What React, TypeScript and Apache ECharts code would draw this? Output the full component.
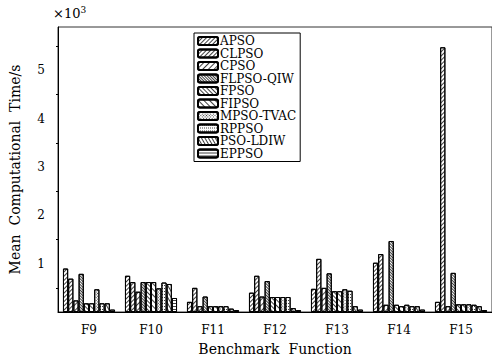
import React, { useEffect, useRef } from "react";
import * as echarts from "echarts";

const categories = ["F9", "F10", "F11", "F12", "F13", "F14", "F15"];
const seriesNames = ["APSO", "CLPSO", "CPSO", "FLPSO-QIW", "FPSO", "FIPSO", "MPSO-TVAC", "RPPSO", "PSO-LDIW", "EPPSO"];
// values in units of 10^3 s
const apso = [0.90, 0.75, 0.21, 0.40, 0.48, 1.02, 0.21];
const clpso = [0.69, 0.62, 0.50, 0.75, 1.10, 1.20, 5.48];
const cpso = [0.24, 0.42, 0.12, 0.32, 0.50, 0.15, 0.12];
const flpsoQiw = [0.79, 0.62, 0.32, 0.64, 0.80, 1.47, 0.81];
const fpso = [0.18, 0.62, 0.12, 0.31, 0.43, 0.15, 0.16];
const fipso = [0.18, 0.62, 0.12, 0.31, 0.43, 0.12, 0.16];
const mpsoTvac = [0.47, 0.49, 0.12, 0.31, 0.47, 0.15, 0.16];
const rppso = [0.18, 0.61, 0.12, 0.31, 0.44, 0.12, 0.15];
const psoLdiw = [0.18, 0.58, 0.07, 0.08, 0.12, 0.12, 0.12];
const eppso = [0.05, 0.29, 0.04, 0.04, 0.05, 0.05, 0.04];
const allValues = [apso, clpso, cpso, flpsoQiw, fpso, fipso, mpsoTvac, rppso, psoLdiw, eppso];
const yTickLabels = ["1", "2", "3", "4", "5"];

const decals: any[] = [
  { dashArrayX: [1, 0], dashArrayY: [1, 2], rotation: -Math.PI / 4 },
  { dashArrayX: [1, 0], dashArrayY: [1, 2], rotation: -Math.PI / 4 },
  { dashArrayX: [1, 0], dashArrayY: [1, 3], rotation: -Math.PI / 4 },
  { dashArrayX: [1, 0], dashArrayY: [1, 1], rotation: Math.PI / 4 },
  { dashArrayX: [1, 0], dashArrayY: [1, 2], rotation: Math.PI / 4 },
  { dashArrayX: [1, 0], dashArrayY: [1, 3], rotation: Math.PI / 4 },
  { dashArrayX: [1, 1], dashArrayY: [1, 1], rotation: Math.PI / 4 },
  { dashArrayX: [1, 1], dashArrayY: [1, 2], rotation: 0 },
  { dashArrayX: [1, 0], dashArrayY: [1, 2], rotation: Math.PI / 3 },
  { dashArrayX: [1, 0], dashArrayY: [1, 2], rotation: 0 },
];

const FONT = "DejaVu Serif";

export default function App() {
  const ref = useRef<HTMLDivElement>(null);
  useEffect(() => {
    const chart = echarts.init(ref.current!, null, { renderer: "svg" });
    chart.setOption({
      animation: false,
      backgroundColor: "#fff",
      textStyle: { fontFamily: FONT, color: "#000" },
      grid: { left: 54, top: 27, width: 441, height: 292, show: true, borderColor: "#333", borderWidth: 1 },
      legend: {
        orient: "vertical",
        left: 194,
        top: 33,
        itemWidth: 20,
        itemHeight: 8,
        itemGap: 0.5,
        padding: [2, 4, 2, 3],
        borderColor: "#000",
        borderWidth: 1,
        backgroundColor: "#fff",
        textStyle: { fontFamily: FONT, fontSize: 12, lineHeight: 12, color: "#000", padding: [0, 0, 0, -3] },
        data: seriesNames,
      },
      graphic: [
        {
          type: "text",
          left: 53,
          top: 5,
          style: {
            text: "{a|×10}{b|3}",
            rich: {
              a: { fontFamily: FONT, fontSize: 13, fill: "#000" },
              b: { fontFamily: FONT, fontSize: 9, fill: "#000", verticalAlign: "top", padding: [0, 0, 8, 0] },
            },
          },
        },
      ],
      xAxis: {
        type: "category",
        data: categories,
        name: "Benchmark  Function",
        nameLocation: "middle",
        nameGap: 30,
        nameTextStyle: { fontFamily: FONT, fontSize: 14, color: "#000" },
        axisLine: { lineStyle: { color: "#000", width: 1 } },
        axisTick: { inside: true, length: 3, lineStyle: { color: "#000" } },
        axisLabel: { fontFamily: FONT, fontSize: 12, color: "#000", margin: 12 },
      },
      yAxis: {
        type: "value",
        min: 0,
        max: 5.9,
        interval: 1,
        name: "Mean  Computational  Time/s",
        nameLocation: "middle",
        nameGap: 36,
        nameTextStyle: { fontFamily: FONT, fontSize: 14, color: "#000" },
        axisLine: { show: true, lineStyle: { color: "#000", width: 1 } },
        axisTick: { length: 4, lineStyle: { color: "#000" } },
        minorTick: { show: true, splitNumber: 2, length: 2, lineStyle: { color: "#000" } },
        splitLine: { show: false },
        axisLabel: {
          fontFamily: FONT,
          fontSize: 12,
          color: "#000",
          margin: 13,
          formatter: (v: number) => {
            const i = Math.round(v);
            if (Math.abs(v - i) > 1e-6 || i < 1 || i > 5) return "";
            return yTickLabels[i - 1];
          },
        },
      },
      series: seriesNames.map((name, i) => ({
        name,
        type: "bar",
        data: allValues[i],
        barGap: "0%",
        barCategoryGap: "16%",
        itemStyle: {
          color: "#fff",
          borderColor: "#000",
          borderWidth: 1,
          decal: { color: "rgba(0,0,0,0.75)", backgroundColor: "#fff", ...decals[i] },
        },
      })),
    });
    return () => chart.dispose();
  }, []);
  return <div ref={ref} style={{ width: 492, height: 361, position: "absolute", left: 0, top: 0 }} />;
}
